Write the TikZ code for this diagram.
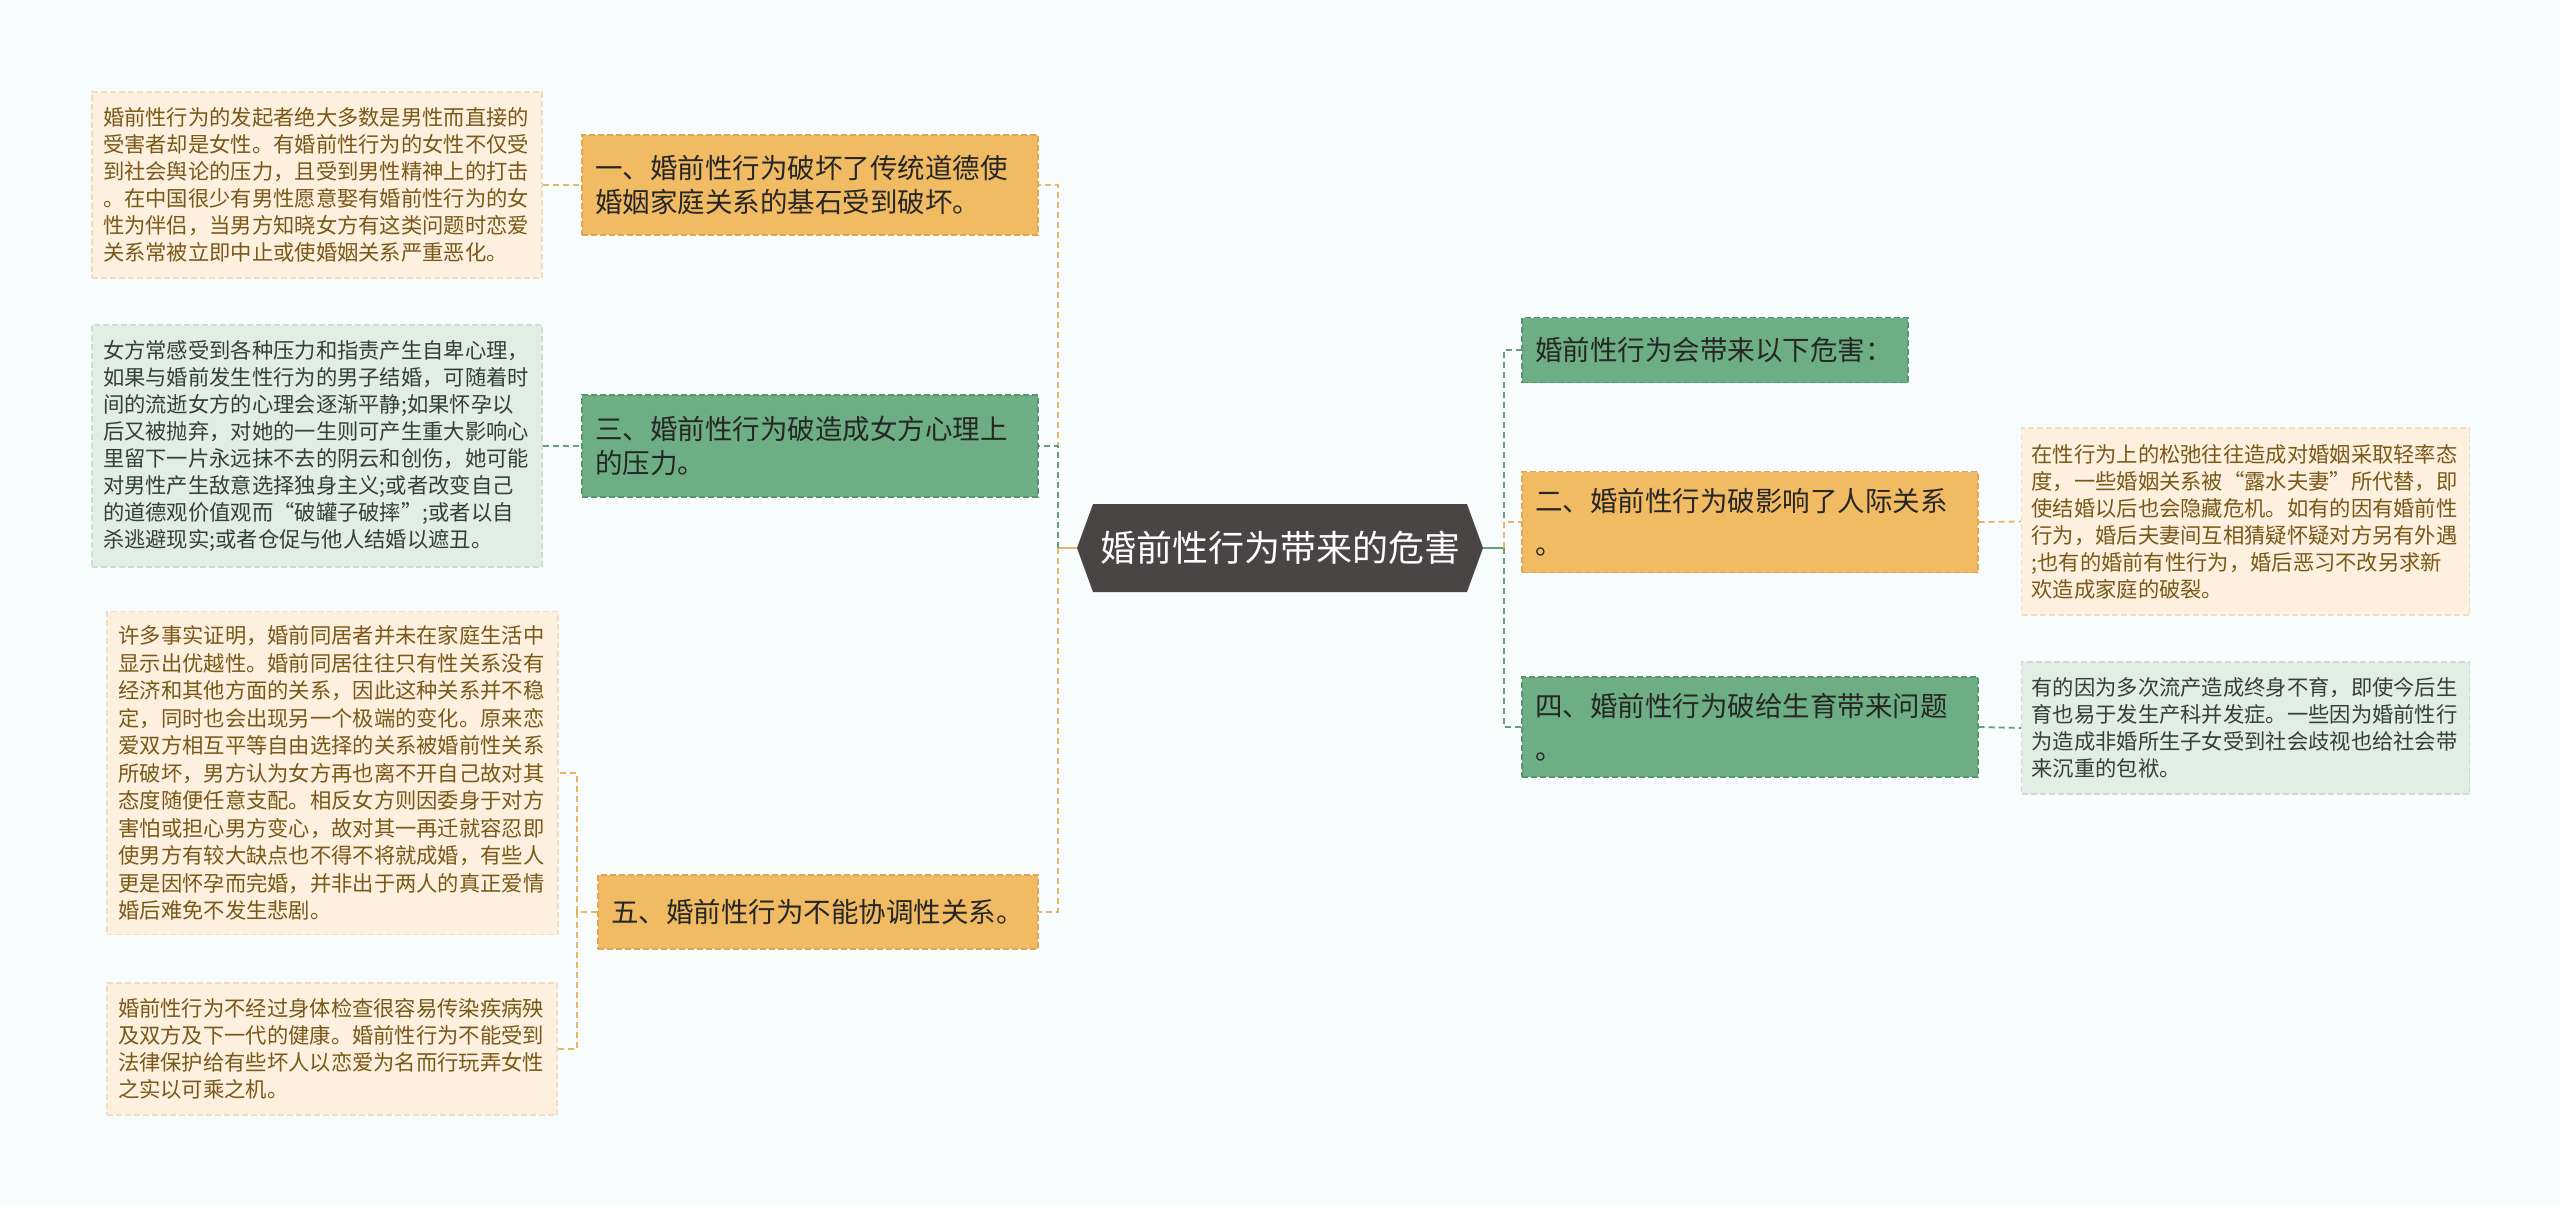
\documentclass[tikz,border=0pt]{standalone}
\usepackage{fontspec}
\setmainfont{Noto Sans CJK SC}
\usetikzlibrary{shapes.symbols, positioning}
\definecolor{cBack}{RGB}{248,252,252}
\definecolor{cRoot}{RGB}{74,69,69}
\definecolor{cOr}{RGB}{240,187,99}
\definecolor{cOrD}{RGB}{221,166,82}
\definecolor{cGr}{RGB}{110,174,132}
\definecolor{cGrD}{RGB}{88,150,110}
\definecolor{cLeafO}{RGB}{253,240,223}
\definecolor{cLeafOD}{RGB}{240,222,196}
\definecolor{cLeafOT}{RGB}{122,88,24}
\definecolor{cLeafG}{RGB}{226,237,229}
\definecolor{cLeafGD}{RGB}{205,222,210}
\definecolor{cLeafGT}{RGB}{48,66,54}
\definecolor{cInk}{RGB}{38,38,38}
\definecolor{cLnO}{RGB}{232,182,104}
\definecolor{cLnG}{RGB}{98,160,120}
\tikzset{
	rootnode/.style={signal, signal to=west and east, signal pointer angle=140, fill=cRoot, text=white, minimum width=203pt, minimum height=44pt, inner sep=0pt, font=\fontsize{18pt}{22pt}\selectfont},
	branch/.style={rectangle, line width=0.6pt, dash pattern=on 3pt off 1.5pt, align=left, text width=215pt, inner xsep=6.5pt, inner ysep=0pt, text=cInk, font=\fontsize{13.75pt}{17pt}\selectfont},
	brO/.style={branch, draw=cOrD, fill=cOr},
	brG/.style={branch, draw=cGrD, fill=cGr},
	leaf/.style={rectangle, line width=0.6pt, dash pattern=on 3pt off 1.5pt, align=left, text width=214pt, inner xsep=5pt, inner ysep=0pt, font=\fontsize{10.65pt}{13.5pt}\selectfont},
	leafO/.style={leaf, draw=cLeafOD, fill=cLeafO, text=cLeafOT},
	leafG/.style={leaf, draw=cLeafGD, fill=cLeafG, text=cLeafGT},
	lnO/.style={cLnO, line width=1.2pt},
	lnG/.style={cLnG, line width=1.2pt},
	dsh/.style={dash pattern=on 3pt off 2pt},
}
\begin{document}
\begin{tikzpicture}[x=0.5pt, y=-0.5pt]
	\fill[cBack] (0,0) rectangle (2560,1207);
	\useasboundingbox (0,0) rectangle (2560,1207);
	% centre
	\node[rootnode] (root) at (1280,548) {婚前性行为带来的危害};
	\coordinate (jl) at (1058,548);
	\coordinate (jr) at (1504,548);
	\coordinate (j5) at (577,912);
	% left branches
	\node[brO, minimum width=228pt, minimum height=50pt] (b1) at (810,185) {一、婚前性行为破坏了传统道德使\\婚姻家庭关系的基石受到破坏。};
	\node[brG, minimum width=228pt, minimum height=51pt] (b3) at (810,446) {三、婚前性行为破造成女方心理上\\的压力。};
	\node[brO, text width=207pt, minimum width=220pt, minimum height=37pt] (b5) at (818,912) {五、婚前性行为不能协调性关系。};
	% right branches
	\node[brG, text width=180pt, minimum width=193pt, minimum height=32.5pt] (r0) at (1715,350) {婚前性行为会带来以下危害：};
	\node[brO, minimum width=228pt, minimum height=50.5pt, font=\fontsize{13.75pt}{21.5pt}\selectfont] (b2) at (1750,522) {二、婚前性行为破影响了人际关系\\。};
	\node[brG, minimum width=228pt, minimum height=50pt, font=\fontsize{13.75pt}{21.5pt}\selectfont] (b4) at (1750,727) {四、婚前性行为破给生育带来问题\\。};
	% leaves
	\node[leafO, minimum width=225pt, minimum height=93pt] (l1) at (317,185) {婚前性行为的发起者绝大多数是男性而直接的\\受害者却是女性。有婚前性行为的女性不仅受\\到社会舆论的压力，且受到男性精神上的打击\\。在中国很少有男性愿意娶有婚前性行为的女\\性为伴侣，当男方知晓女方有这类问题时恋爱\\关系常被立即中止或使婚姻关系严重恶化。};
	\node[leafG, minimum width=225pt, minimum height=121pt] (l3) at (317,446) {女方常感受到各种压力和指责产生自卑心理，\\如果与婚前发生性行为的男子结婚，可随着时\\间的流逝女方的心理会逐渐平静;如果怀孕以\\后又被抛弃，对她的一生则可产生重大影响心\\里留下一片永远抹不去的阴云和创伤，她可能\\对男性产生敌意选择独身主义;或者改变自己\\的道德观价值观而“破罐子破摔”;或者以自\\杀逃避现实;或者仓促与他人结婚以遮丑。};
	\node[leafO, minimum width=225.5pt, minimum height=161.5pt, font=\fontsize{10.65pt}{13.75pt}\selectfont] (l5a) at (332.5,773) {许多事实证明，婚前同居者并未在家庭生活中\\显示出优越性。婚前同居往往只有性关系没有\\经济和其他方面的关系，因此这种关系并不稳\\定，同时也会出现另一个极端的变化。原来恋\\爱双方相互平等自由选择的关系被婚前性关系\\所破坏，男方认为女方再也离不开自己故对其\\态度随便任意支配。相反女方则因委身于对方\\害怕或担心男方变心，故对其一再迁就容忍即\\使男方有较大缺点也不得不将就成婚，有些人\\更是因怀孕而完婚，并非出于两人的真正爱情\\婚后难免不发生悲剧。};
	\node[leafO, minimum width=225pt, minimum height=66pt] (l5b) at (332,1049) {婚前性行为不经过身体检查很容易传染疾病殃\\及双方及下一代的健康。婚前性行为不能受到\\法律保护给有些坏人以恋爱为名而行玩弄女性\\之实以可乘之机。};
	\node[leafO, minimum width=222.5pt, minimum height=93.5pt] (l2) at (2245.5,521.5) {在性行为上的松弛往往造成对婚姻采取轻率态\\度，一些婚姻关系被“露水夫妻”所代替，即\\使结婚以后也会隐藏危机。如有的因有婚前性\\行为，婚后夫妻间互相猜疑怀疑对方另有外遇\\;也有的婚前有性行为，婚后恶习不改另求新\\欢造成家庭的破裂。};
	\node[leafG, minimum width=222.5pt, minimum height=66pt] (l4) at (2245.5,728) {有的因为多次流产造成终身不育，即使今后生\\育也易于发生产科并发症。一些因为婚前性行\\为造成非婚所生子女受到社会歧视也给社会带\\来沉重的包袱。};
	% connectors
	\draw[lnO] (root.west) -- (jl);
	\draw[lnG] (root.east) -- (jr);
	\draw[lnO, dsh] (jl) |- (b1.east);
	\draw[lnO, dsh] (jl) |- (b5.east);
	\draw[lnG, dsh] (jl) |- (b3.east);
	\draw[lnG, dsh] (jr) |- (r0.west);
	\draw[lnG, dsh] (jr) |- (b4.west);
	\draw[lnO, dsh] (jr) |- (b2.west);
	\foreach \a/\b/\c in {l1.east/b1.west/lnO, l3.east/b3.west/lnG, b2.east/l2.west/lnO, b4.east/l4.west/lnG} {
		\draw[\c, dsh, line width=0.9pt] (\a) -- (\b);
	}
	\draw[lnO, dsh, line width=0.9pt] (b5.west) -- (j5) |- (l5a.east);
	\draw[lnO, dsh, line width=0.9pt] (j5) |- (l5b.east);
\end{tikzpicture}
\end{document}
